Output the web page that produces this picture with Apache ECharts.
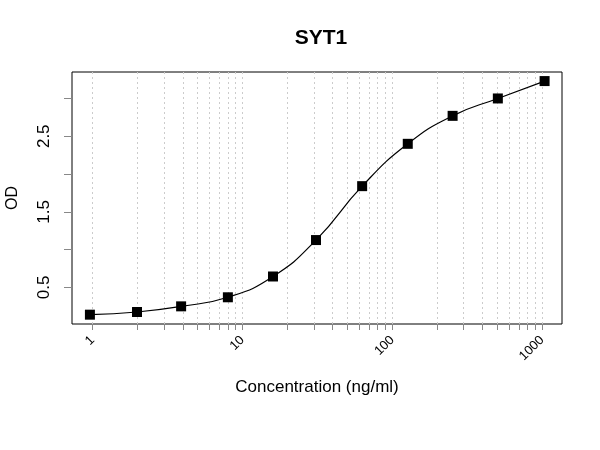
<!DOCTYPE html>
<html>
<head>
<meta charset="utf-8">
<script src="https://cdn.jsdelivr.net/npm/echarts@6/dist/echarts.min.js"></script>
<style>html,body{margin:0;padding:0;background:#fff}#c{width:600px;height:450px}</style>
</head>
<body>
<div id="c"></div>
<script>
const concentration = [0.96, 1.98, 3.9, 8.0, 16.0, 31.0, 63.0, 127, 253, 507, 1040];
const od = [0.14, 0.175, 0.25, 0.37, 0.645, 1.127, 1.84, 2.40, 2.77, 3.00, 3.23];
const xGridValues = [1,2,3,4,5,6,7,8,9,10,20,30,40,50,60,70,80,90,100,200,300,400,500,600,700,800,900,1000];
const xLabelValues = [1, 10, 100, 1000];
const yTickValues = [0.5, 1.0, 1.5, 2.0, 2.5, 3.0];
const yLabelValues = [0.5, 1.5, 2.5];

const font = 'Liberation Sans, Arial, sans-serif';
const chart = echarts.init(document.getElementById('c'), null, {renderer: 'canvas'});
chart.setOption({
  animation: false,
  backgroundColor: '#fff',
  title: {
    text: 'SYT1', left: 316, top: 23, textAlign: 'center',
    textStyle: {fontFamily: font, fontSize: 21, fontWeight: 'bold', color: '#000'}
  },
  grid: {left: 72, right: 38, top: 72, bottom: 126, containLabel: false, outerBoundsMode: 'none',
    show: true, borderColor: '#000', borderWidth: 1, backgroundColor: 'transparent'},
  xAxis: {
    type: 'log', logBase: 10, min: 0.729, max: 1359,
    name: 'Concentration (ng/ml)', nameLocation: 'middle', nameGap: 55,
    nameTextStyle: {fontFamily: font, fontSize: 17, color: '#000'},
    axisLine: {show: false},
    axisTick: {show: true, length: 6, customValues: xGridValues, lineStyle: {color: '#888'}},
    axisLabel: {customValues: xLabelValues, rotate: 45, margin: 14, fontFamily: font, fontSize: 13, color: '#000',
      formatter: v => String(Math.round(v))},
    splitLine: {show: true, lineStyle: {color: '#ccc', type: [2, 3], width: 1}},
    minorTick: {show: false}
  },
  yAxis: {
    type: 'value', min: 0.0166, max: 3.35,
    name: 'OD', nameLocation: 'middle', nameGap: 51, nameRotate: 90,
    nameTextStyle: {fontFamily: font, fontSize: 16, color: '#000'},
    axisLine: {show: false},
    axisTick: {show: true, length: 8, customValues: yTickValues, lineStyle: {color: '#888'}},
    axisLabel: {customValues: yLabelValues, rotate: 90, margin: 19, fontFamily: font, fontSize: 17, color: '#000',
      formatter: v => v.toFixed(1)},
    splitLine: {show: false}
  },
  series: [{
    type: 'line', data: concentration.map((c, i) => [c, od[i]]),
    smooth: 0.5,
    symbol: 'rect', symbolSize: 10,
    itemStyle: {color: '#000'},
    lineStyle: {color: '#000', width: 1.2}
  }]
});
</script>
</body>
</html>
